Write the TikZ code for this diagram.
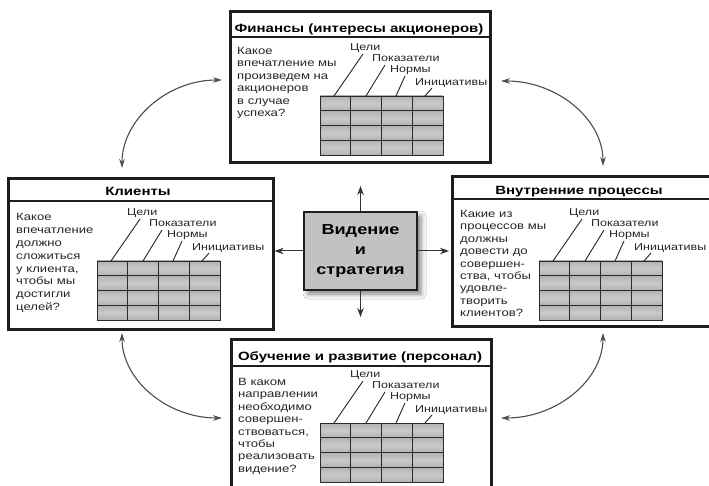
\documentclass[tikz,border=0pt]{standalone}
\usepackage{fontspec}
\setmainfont{Liberation Sans}[FakeStretch=1.25]
\usetikzlibrary{arrows.meta,shadows.blur}
\definecolor{cellD}{HTML}{B2B2B2}
\definecolor{cellL}{HTML}{CACACA}
\definecolor{gridc}{HTML}{2A2A2A}
\definecolor{boxc}{HTML}{1E1E1E}
\definecolor{visfill}{HTML}{C2C2C2}
\tikzset{
  panel/.style={draw=boxc, line width=2.6pt, fill=white, inner sep=0, anchor=north west},
  sepline/.style={draw=boxc, line width=1.3pt},
  ttl/.style={font=\bfseries\fontsize{12}{14}\selectfont, anchor=base, inner sep=0},
  qtext/.style={align=left, anchor=north west, inner sep=0, font=\fontsize{10.5}{12.4}\selectfont, text=black!85},
  lbl/.style={anchor=west, inner sep=0, font=\fontsize{10}{12}\selectfont, text=black!85},
  gridline/.style={draw=gridc, line width=0.9pt},
  lead/.style={draw=black!85, line width=0.9pt},
  sarr/.style={draw=black!80, line width=1pt, -{Stealth[length=9pt,width=6.5pt]}},
  carr/.style={draw=black!70, line width=1.1pt, {Stealth[length=9pt,width=5.5pt]}-{Stealth[length=9pt,width=5.5pt]}},
}
\newcommand\bsctab[3]{%
  \begin{scope}[shift={(#2,#3)}]
    \foreach \r in {0,1,2,3}{%
      \shade[top color=cellD, bottom color=cellD, middle color=cellL] (0,\r*14.75) rectangle (123,\r*14.75+14.75);}
    \node[draw=gridc, line width=0.9pt, minimum width=123, minimum height=59, anchor=north west, inner sep=0] (#1tab) at (0,0) {};
    \foreach \c in {1,2,3} \draw[gridline] (\c*30.75,0) -- (\c*30.75,59);
    \foreach \r in {1,2,3} \draw[gridline] (0,\r*14.75) -- (123,\r*14.75);
    \node[lbl] (#1g) at (30,-48) {Цели};
    \node[lbl] (#1p) at (52,-38) {Показатели};
    \node[lbl] (#1n) at (70,-26) {Нормы};
    \node[lbl] (#1i) at (95,-13) {Инициативы};
    \coordinate (#1a1) at (14,0);  \coordinate (#1b1) at (43,-42);
    \coordinate (#1a2) at (46,0);  \coordinate (#1b2) at (65,-31);
    \coordinate (#1a3) at (76,0);  \coordinate (#1b3) at (85,-20);
    \coordinate (#1a4) at (105,0); \coordinate (#1b4) at (112,-8);
    \draw[lead] (#1a1) -- (#1b1);
    \draw[lead] (#1a2) -- (#1b2);
    \draw[lead] (#1a3) -- (#1b3);
    \draw[lead] (#1a4) -- (#1b4);
  \end{scope}}
\begin{document}
\begin{tikzpicture}[x=1pt,y=-1pt]
\useasboundingbox (0,0) rectangle (709,486);
\clip (0,0) rectangle (709,486);
\fill[white] (0,0) rectangle (709,486);

% panels
\node[panel, minimum width=260, minimum height=151] (fin) at (229,10) {};
\node[panel, minimum width=265, minimum height=151] (cli) at (7,177) {};
\node[panel, minimum width=270, minimum height=150] (proc) at (451,175) {};
\node[panel, minimum width=260, minimum height=160] (lrn) at (230,338) {};

\draw[sepline] (fin.west |- 0,37) -- (fin.east |- 0,37);
\draw[sepline] (cli.west |- 0,201) -- (cli.east |- 0,201);
\draw[sepline] (proc.west |- 0,199) -- (proc.east |- 0,199);
\draw[sepline] (lrn.west |- 0,366) -- (lrn.east |- 0,366);

% titles
\node[ttl] (finT) at (359,33) {Финансы (интересы акционеров)};
\node[ttl] (cliT) at (138,196) {Клиенты};
\node[ttl] (procT) at (579,195) {Внутренние процессы};
\node[ttl] (lrnT) at (360,360) {Обучение и развитие (персонал)};

% questions
\node[qtext] (finQ) at (237,47) {Какое\\впечатление мы\\произведем на\\акционеров\\в случае\\успеха?};
\node[qtext, font=\fontsize{10.5}{12.9}\selectfont] (cliQ) at (16,213) {Какое\\впечатление\\должно\\сложиться\\у клиента,\\чтобы мы\\достигли\\целей?};
\node[qtext] (procQ) at (460,210) {Какие из\\процессов мы\\должны\\довести до\\совершен-\\ства, чтобы\\удовле-\\творить\\клиентов?};
\node[qtext] (lrnQ) at (238,378) {В каком\\направлении\\необходимо\\совершен-\\ствоваться,\\чтобы\\реализовать\\видение?};

% tables
\bsctab{fin}{320}{96}
\bsctab{cli}{97}{261}
\bsctab{proc}{539}{261}
\bsctab{lrn}{320}{423}

% centre
\node[draw=boxc, line width=2pt, fill=visfill, minimum width=113, minimum height=78, inner sep=0,
      align=center, font=\bfseries\fontsize{14.5}{20}\selectfont,
      blur shadow={shadow xshift=4pt, shadow yshift=-4pt, shadow blur radius=5pt, shadow opacity=50}]
      (vis) at (360.5,251) {Видение\\и\\стратегия};
\coordinate (vup) at (360.5,186);
\coordinate (vdn) at (360.5,317);
\draw[sarr] (vis.north) -- (vup);
\draw[sarr] (vis.south) -- (vdn);
\draw[sarr] (vis.west) -- (cli.east |- vis.west);
\draw[sarr, shorten >=2pt] (vis.east) -- (proc.west |- vis.east);

% curved arrows
\coordinate (c1a) at (122,168); \coordinate (c1b) at (222,80);
\coordinate (c2a) at (501,81);  \coordinate (c2b) at (603,166);
\coordinate (c3a) at (122,333); \coordinate (c3b) at (222,418);
\coordinate (c4a) at (603,333); \coordinate (c4b) at (501,418);
\draw[carr] (c1a) .. controls (122,120) and (167,80) .. (c1b);
\draw[carr] (c2a) .. controls (557,81) and (603,119) .. (c2b);
\draw[carr] (c3a) .. controls (122,380) and (167,418) .. (c3b);
\draw[carr] (c4a) .. controls (603,380) and (557,418) .. (c4b);
\end{tikzpicture}
\end{document}
